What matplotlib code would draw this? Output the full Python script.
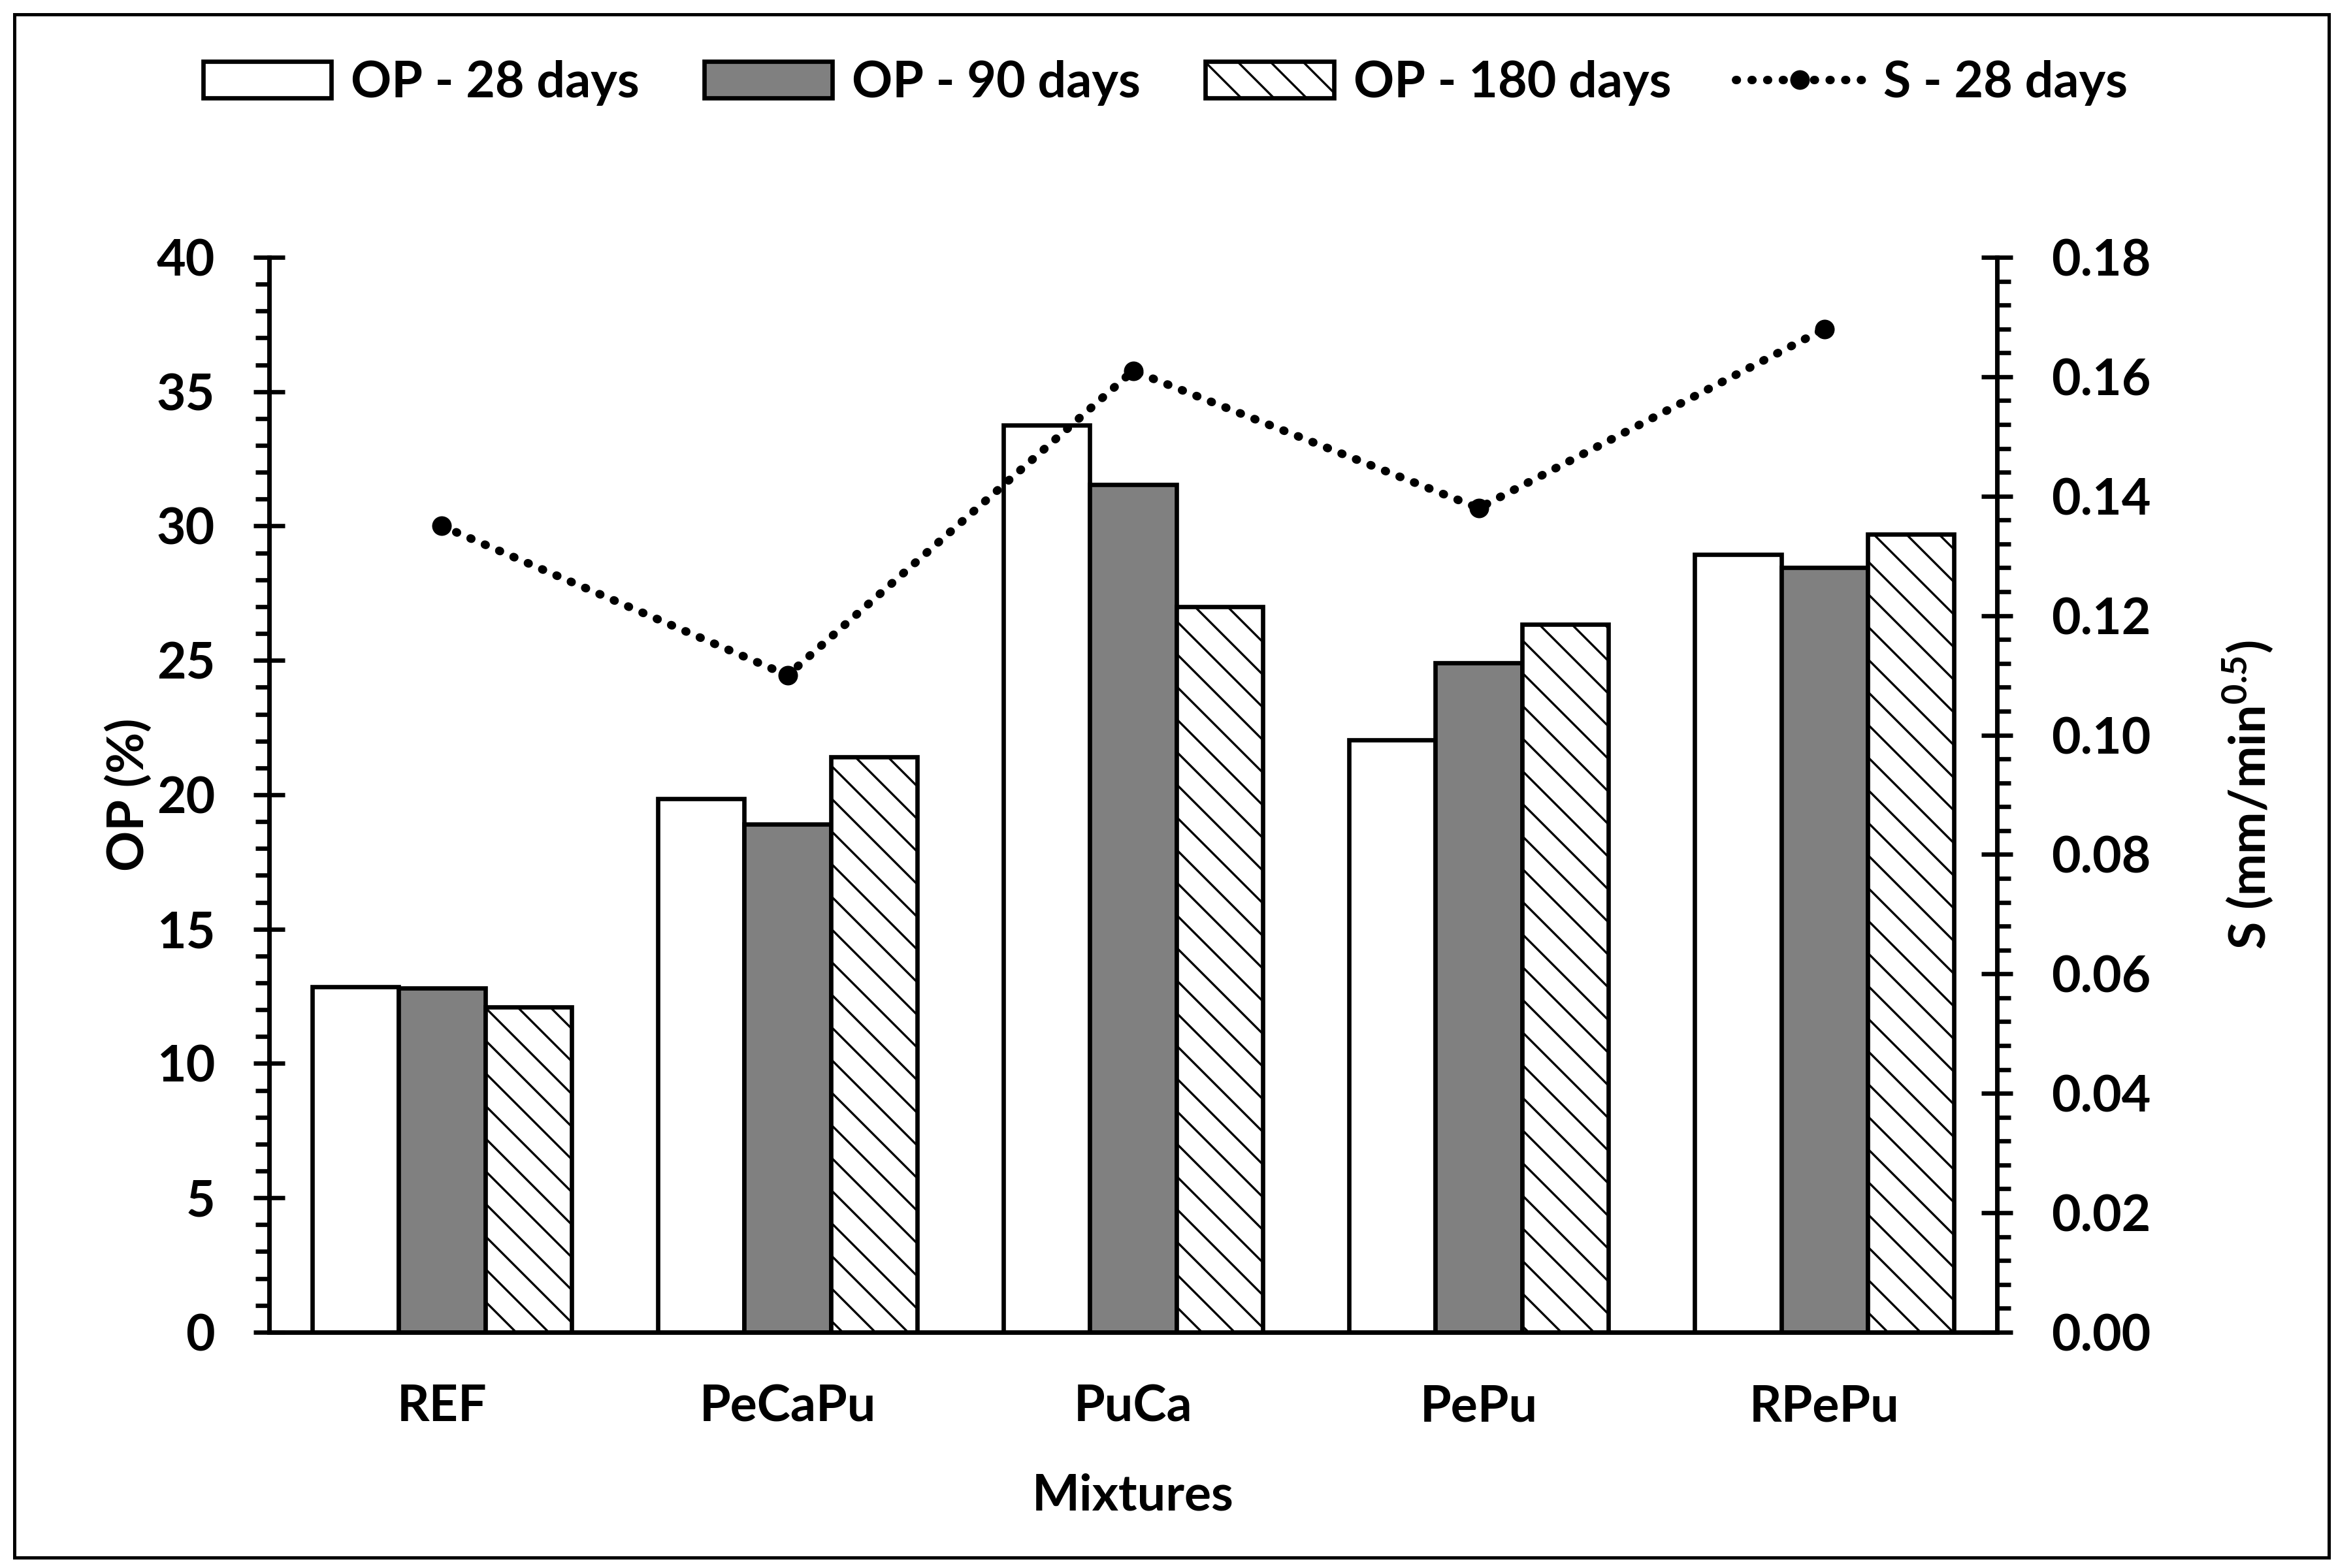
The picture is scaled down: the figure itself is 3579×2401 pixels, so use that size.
import matplotlib
matplotlib.use("Agg")
import matplotlib.pyplot as plt
from matplotlib.patches import Rectangle
from matplotlib.ticker import MultipleLocator, FormatStrFormatter
import numpy as np

categories = ["REF", "PeCaPu", "PuCa", "PePu", "RPePu"]
op_28 = [12.85, 19.85, 33.75, 22.05, 28.95]
op_90 = [12.8, 18.9, 31.55, 24.9, 28.45]
op_180 = [12.1, 21.4, 27.0, 26.35, 29.7]
s_28 = [0.135, 0.110, 0.161, 0.138, 0.168]
series_labels = ["OP - 28 days", "OP - 90 days", "OP - 180 days", "S - 28 days"]

FONT = "Lato"
FS = 18.5
plt.rcParams["font.family"] = [FONT, "DejaVu Sans"]
plt.rcParams["font.weight"] = "bold"
plt.rcParams["mathtext.fontset"] = "custom"
plt.rcParams["mathtext.rm"] = "Lato:bold"
plt.rcParams["mathtext.it"] = "Lato:bold"
plt.rcParams["mathtext.bf"] = "Lato:bold"
plt.rcParams["mathtext.default"] = "rm"
plt.rcParams["hatch.linewidth"] = 0.8
plt.rcParams["hatch.color"] = "black"

fig = plt.figure(figsize=(3579 / 300, 2401 / 300), dpi=300)
ax = fig.add_axes([0.1151, 0.1504, 0.7391, 0.6855])
ax2 = ax.twinx()

x = np.arange(len(categories))
w = 0.25
lw = 1.6
b1 = ax.bar(x - w, op_28, w, color="white", edgecolor="black", linewidth=lw, label=series_labels[0], zorder=2)
b2 = ax.bar(x, op_90, w, color="#808080", edgecolor="black", linewidth=lw, label=series_labels[1], zorder=2)
b3 = ax.bar(x + w, op_180, w, color="white", edgecolor="black", linewidth=lw, hatch="\\\\", label=series_labels[2], zorder=2)

ln, = ax2.plot(x, s_28, color="black", linewidth=3.1, linestyle=(0, (0.1, 1.75)),
               dash_capstyle="round", marker="o", markersize=6.2, label=series_labels[3])

ax.set_xlim(-0.5, 4.5)
ax.set_ylim(0, 40)
ax2.set_ylim(0, 0.18)

ax.set_xticks(x)
ax.set_xticklabels(categories, fontsize=FS, fontweight="bold")
ax.tick_params(axis="x", length=0, pad=19)

ax.yaxis.set_major_locator(MultipleLocator(5))
ax.yaxis.set_minor_locator(MultipleLocator(1))
ax2.yaxis.set_major_locator(MultipleLocator(0.02))
ax2.yaxis.set_minor_locator(MultipleLocator(0.004))
ax2.yaxis.set_major_formatter(FormatStrFormatter("%.2f"))

for a in (ax, ax2):
    a.tick_params(axis="y", which="major", direction="inout", length=11.3, width=1.6, pad=14.2, labelsize=FS)
    a.tick_params(axis="y", which="minor", direction="out", length=5, width=1.6)
    for sp in a.spines.values():
        sp.set_linewidth(1.6)
    a.spines["top"].set_visible(False)
    for t in a.get_yticklabels():
        t.set_fontweight("bold")

ax.set_ylabel("OP (%)", fontsize=FS, fontweight="bold")
ax.yaxis.set_label_coords(-0.0815, 0.5)
ax.yaxis.label.set_va("center")
ax2.set_ylabel("S (mm/min$^{0.5}$)", fontsize=FS, fontweight="bold")
ax2.yaxis.set_label_coords(1.145, 0.5)
ax2.yaxis.label.set_va("center")
ax2.yaxis.label.set_rotation(90)

ax.set_xlabel("Mixtures", fontsize=FS, fontweight="bold")
ax.xaxis.set_label_coords(0.5, -0.1525)
ax.xaxis.label.set_va("center")

handles = [b1, b2, b3, ln]
fig.legend(handles, series_labels, loc="center", bbox_to_anchor=(0.4985, 0.947), ncol=4,
           frameon=False, handlelength=2.55, handleheight=0.74, handletextpad=0.39,
           columnspacing=1.28, prop={"family": FONT, "weight": "bold", "size": FS})

fig.patches.append(Rectangle((0.00615, 0.00666), 0.98994, 0.98418, transform=fig.transFigure,
                             fill=False, edgecolor="black", linewidth=1.2))

fig.savefig("out.png", dpi=300, facecolor="white")
